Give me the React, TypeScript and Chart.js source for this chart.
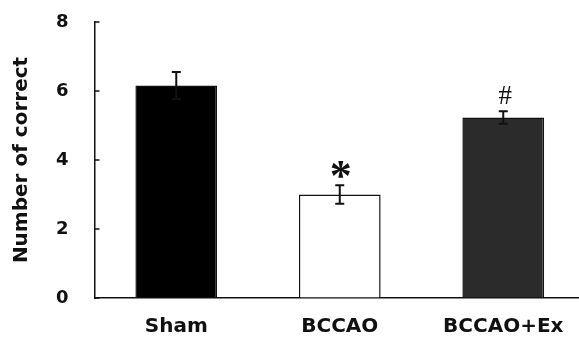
import React, { useEffect, useRef } from "react";
import { Chart, registerables } from "chart.js";

Chart.register(...registerables);

const categories = ["Sham", "BCCAO", "BCCAO+Ex"];
const means = [6.16, 3.0, 5.23];
const errors = [0.39, 0.27, 0.18];
const marks = ["", "*", "#"];
const yTicks = [0, 2, 4, 6, 8];

const barColors = ["#000000", "#ffffff", "#2b2b2b"];
const ink = "#111111";

const errorBarPlugin = {
  id: "errorBars",
  afterDatasetsDraw(chart: any) {
    const { ctx } = chart;
    const yScale = chart.scales.y;
    const meta = chart.getDatasetMeta(0);
    ctx.save();
    ctx.strokeStyle = ink;
    ctx.lineWidth = 2;
    meta.data.forEach((bar: any, i: number) => {
      const x = bar.x;
      const yT = yScale.getPixelForValue(means[i] + errors[i]);
      const yB = yScale.getPixelForValue(means[i] - errors[i]);
      ctx.beginPath();
      ctx.moveTo(x, yT);
      ctx.lineTo(x, yB);
      ctx.moveTo(x - 4.5, yT);
      ctx.lineTo(x + 4.5, yT);
      ctx.moveTo(x - 4.5, yB);
      ctx.lineTo(x + 4.5, yB);
      ctx.stroke();
      const m = marks[i];
      if (m) {
        ctx.fillStyle = ink;
        ctx.font = m === "*" ? "bold 44px 'Liberation Serif'" : "27px 'Liberation Serif'";
        ctx.textAlign = "center";
        ctx.textBaseline = "alphabetic";
        const tm = ctx.measureText(m);
        const h = tm.actualBoundingBoxAscent + tm.actualBoundingBoxDescent;
        const cy = yT - 16;
        const baseline = cy + h / 2 - tm.actualBoundingBoxDescent;
        ctx.fillText(m, x + (m === "#" ? 2 : 1), baseline);
      }
    });
    ctx.restore();
  },
};

const innerTickPlugin = {
  id: "innerTicks",
  afterDraw(chart: any) {
    const { ctx } = chart;
    const yScale = chart.scales.y;
    const x0 = chart.chartArea.left;
    ctx.save();
    ctx.strokeStyle = ink;
    ctx.lineWidth = 1.5;
    yTicks.forEach((v) => {
      const y = yScale.getPixelForValue(v);
      ctx.beginPath();
      ctx.moveTo(x0, y);
      ctx.lineTo(x0 + 5, y);
      ctx.stroke();
    });
    ctx.restore();
  },
};

export default function App() {
  const ref = useRef<HTMLCanvasElement | null>(null);
  useEffect(() => {
    if (!ref.current) return;
    const chart = new Chart(ref.current, {
      type: "bar",
      data: {
        labels: categories,
        datasets: [
          {
            data: means,
            backgroundColor: barColors,
            borderColor: ink,
            borderWidth: 1.5,
            barPercentage: 0.5,
            categoryPercentage: 1,
          },
        ],
      },
      options: {
        animation: false,
        responsive: false,
        devicePixelRatio: 1,
        layout: { padding: { left: 10, top: 22, right: 5, bottom: 0 } },
        plugins: { legend: { display: false }, tooltip: { enabled: false } },
        scales: {
          x: {
            grid: {
              display: true,
              drawOnChartArea: false,
              drawTicks: true,
              tickLength: 17,
              color: "rgba(0,0,0,0)",
              tickColor: "rgba(0,0,0,0)",
            },
            border: { display: true, color: ink, width: 1.5 },
            ticks: {
              color: ink,
              padding: 0,
              font: { family: "'DejaVu Sans'", weight: "bold", size: 20 },
            },
          },
          y: {
            min: 0,
            max: 8,
            grid: {
              display: true,
              drawOnChartArea: false,
              drawTicks: true,
              tickLength: 26,
              color: "rgba(0,0,0,0)",
              tickColor: "rgba(0,0,0,0)",
            },
            border: { display: true, color: ink, width: 1.5 },
            ticks: {
              stepSize: 2,
              color: ink,
              padding: 0,
              font: { family: "'DejaVu Sans'", weight: "bold", size: 18 },
            },
            title: {
              display: true,
              text: "Number of correct",
              color: ink,
              padding: { top: 0, bottom: 22 },
              font: { family: "'DejaVu Sans'", weight: "bold", size: 20 },
            },
          },
        },
      },
      plugins: [errorBarPlugin, innerTickPlugin],
    });
    return () => chart.destroy();
  }, []);
  return (
    <div style={{ position: "absolute", left: 0, top: 0, width: 590, height: 339 }}>
      <canvas ref={ref} width={590} height={339} />
    </div>
  );
}
